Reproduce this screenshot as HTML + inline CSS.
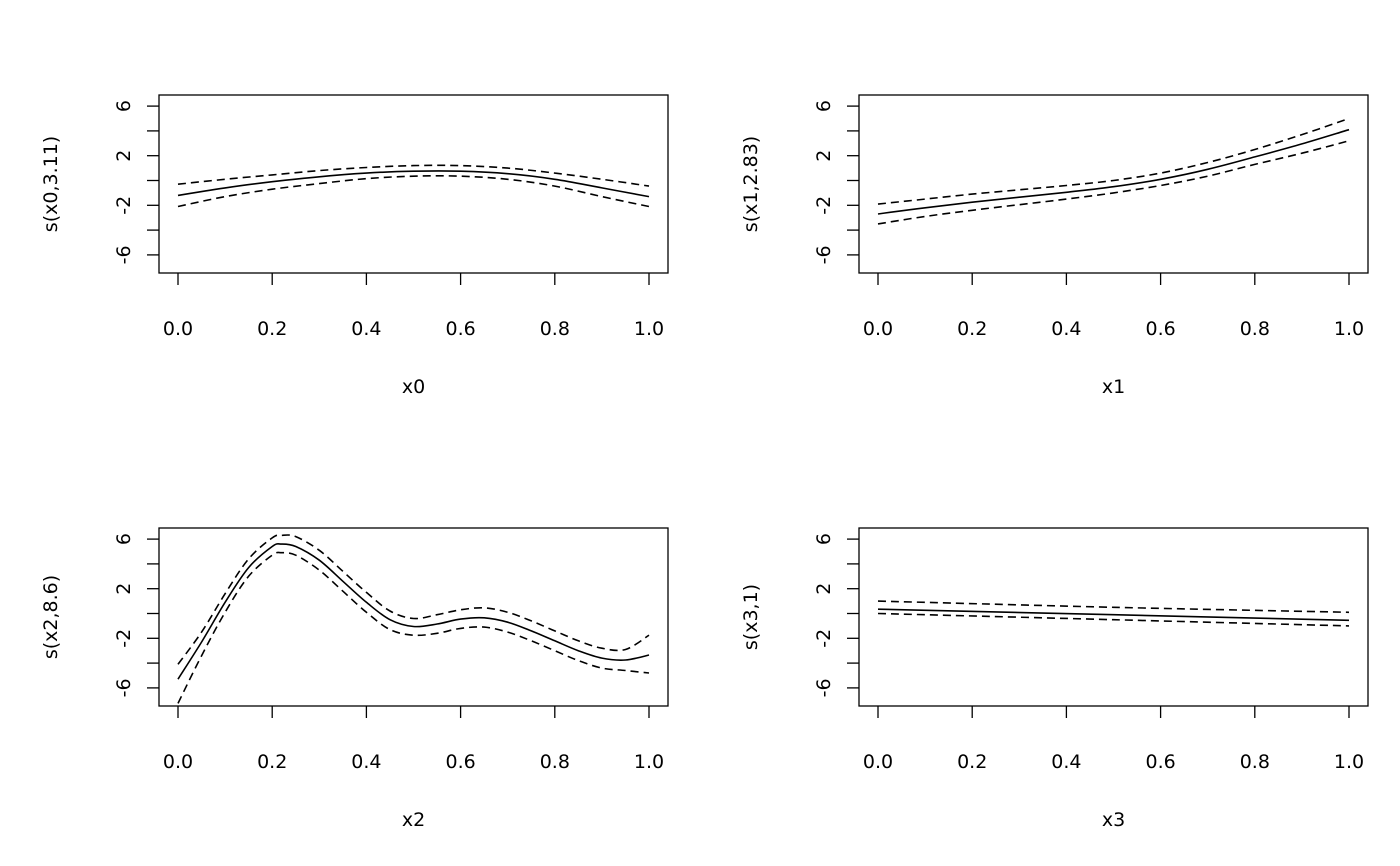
<!DOCTYPE html>
<html><head><meta charset="utf-8"><style>
html,body{margin:0;padding:0;background:#fff}
svg{display:block}
text{font-family:"DejaVu Sans","Liberation Sans",sans-serif;font-size:19px;fill:#000}
</style></head><body>
<svg id="chart" width="1400" height="866" viewBox="0 0 1400 866"></svg>
<script>
const xTicks=[0,0.2,0.4,0.6,0.8,1.0];
const xTickLabels=["0.0","0.2","0.4","0.6","0.8","1.0"];
const yTicks=[-6,-4,-2,0,2,4,6];
const yTickLabels=["-6","","-2","","2","","6"];
const xLabels=["x0","x1","x2","x3"];
const yLabels=["s(x0,3.11)","s(x1,2.83)","s(x2,8.6)","s(x3,1)"];

const x0Grid=[0,0.1,0.2,0.3,0.4,0.5,0.6,0.7,0.8,0.9,1.0];
const fit0=[-1.2,-0.6,-0.1,0.3,0.6,0.75,0.75,0.55,0.1,-0.6,-1.3];
const up0=[-0.3,0.1,0.45,0.8,1.05,1.2,1.2,1.0,0.6,0.1,-0.45];
const lo0=[-2.1,-1.3,-0.7,-0.25,0.15,0.35,0.35,0.1,-0.45,-1.3,-2.1];

const fit1=[-2.7,-2.2,-1.75,-1.35,-0.95,-0.5,0.1,0.9,1.9,2.95,4.1];
const up1=[-1.9,-1.5,-1.1,-0.75,-0.4,0.0,0.6,1.45,2.5,3.7,5.0];
const lo1=[-3.5,-2.9,-2.4,-1.95,-1.5,-1.0,-0.4,0.35,1.3,2.2,3.2];

const x2Grid=[0,0.05,0.1,0.15,0.2,0.22,0.25,0.3,0.35,0.4,0.45,0.5,0.55,0.6,0.65,0.7,0.75,0.8,0.85,0.9,0.95,1.0];
const fit2=[-5.3,-2.3,0.9,3.7,5.4,5.6,5.4,4.3,2.6,0.9,-0.5,-1.05,-0.85,-0.45,-0.35,-0.7,-1.4,-2.2,-3.0,-3.6,-3.75,-3.35];
const up2=[-4.1,-1.5,1.6,4.4,6.1,6.3,6.2,5.1,3.4,1.7,0.2,-0.4,-0.1,0.3,0.45,0.1,-0.6,-1.4,-2.2,-2.8,-2.9,-1.75];
const lo2=[-7.25,-3.4,0.1,3.0,4.7,4.9,4.7,3.5,1.8,0.1,-1.3,-1.75,-1.6,-1.2,-1.1,-1.5,-2.2,-3.0,-3.8,-4.4,-4.6,-4.8];

const x3Grid=[0,0.5,1.0];
const fit3=[0.35,-0.1,-0.55];
const up3=[1.0,0.5,0.1];
const lo3=[0.0,-0.5,-1.0];

const panels=[
 {left:159,top:95,xs:x0Grid,fit:fit0,up:up0,lo:lo0},
 {left:859,top:95,xs:x0Grid,fit:fit1,up:up1,lo:lo1},
 {left:159,top:528,xs:x2Grid,fit:fit2,up:up2,lo:lo2},
 {left:859,top:528,xs:x3Grid,fit:fit3,up:up3,lo:lo3}
];
const NS="http://www.w3.org/2000/svg";
const svg=document.getElementById('chart');
function mk(tag,attrs,parent){const e=document.createElementNS(NS,tag);for(const k in attrs)e.setAttribute(k,attrs[k]);(parent||svg).appendChild(e);return e;}
function smooth(pts){
  let d='M'+pts[0][0].toFixed(1)+','+pts[0][1].toFixed(1);
  for(let i=0;i<pts.length-1;i++){
    const p0=pts[Math.max(0,i-1)],p1=pts[i],p2=pts[i+1],p3=pts[Math.min(pts.length-1,i+2)];
    const c1x=p1[0]+(p2[0]-p0[0])/6,c1y=p1[1]+(p2[1]-p0[1])/6;
    const c2x=p2[0]-(p3[0]-p1[0])/6,c2y=p2[1]-(p3[1]-p1[1])/6;
    d+=` C${c1x.toFixed(1)},${c1y.toFixed(1)} ${c2x.toFixed(1)},${c2y.toFixed(1)} ${p2[0].toFixed(1)},${p2[1].toFixed(1)}`;
  }
  return d;
}
const W=509,H=178;
panels.forEach((p,i)=>{
  const g=mk('g',{});
  
  
  const xS=v=>p.left+19+v*471;
  const yS=v=>p.top+85.5-v*12.4;
  const box=mk('rect',{x:p.left,y:p.top,width:W,height:H,fill:'none',stroke:'#000','stroke-width':1.3},g);
  
  
  xTicks.forEach((t,j)=>{
    const x=xS(t);
    const tk=mk('line',{x1:x,x2:x,y1:p.top+H,y2:p.top+H+12,stroke:'#000','stroke-width':1.3},g);
    
    
    const tl=mk('text',{x:x,y:p.top+H+62,'text-anchor':'middle'},g);
    tl.textContent=xTickLabels[j];
    
    
  });
  yTicks.forEach((t,j)=>{
    const y=yS(t);
    const tk=mk('line',{x1:p.left-12,x2:p.left,y1:y,y2:y,stroke:'#000','stroke-width':1.3},g);
    
    
    if(yTickLabels[j]){
      const tl=mk('text',{x:0,y:0,'text-anchor':'middle',transform:`translate(${p.left-29},${y}) rotate(-90)`},g);
      tl.textContent=yTickLabels[j];
      
      
    }
  });
  const xl=mk('text',{x:p.left+W/2,y:p.top+H+120,'text-anchor':'middle'},g);
  xl.textContent=xLabels[i];
  
  
  const yl=mk('text',{x:0,y:0,'text-anchor':'middle',transform:`translate(${p.left-102},${p.top+H/2}) rotate(-90)`},g);
  yl.textContent=yLabels[i];
  
  
  const path=arr=>smooth(p.xs.map((x,k)=>[xS(x),yS(arr[k])]));
  const fl=mk('path',{d:path(p.fit),fill:'none',stroke:'#000','stroke-width':1.6,'stroke-linejoin':'round'},g);
  
  
  const ul=mk('path',{d:path(p.up),fill:'none',stroke:'#000','stroke-width':1.6,'stroke-dasharray':'8,5'},g);
  
  
  const ll=mk('path',{d:path(p.lo),fill:'none',stroke:'#000','stroke-width':1.6,'stroke-dasharray':'8,5'},g);
  
  
});
</script>
</body></html>
